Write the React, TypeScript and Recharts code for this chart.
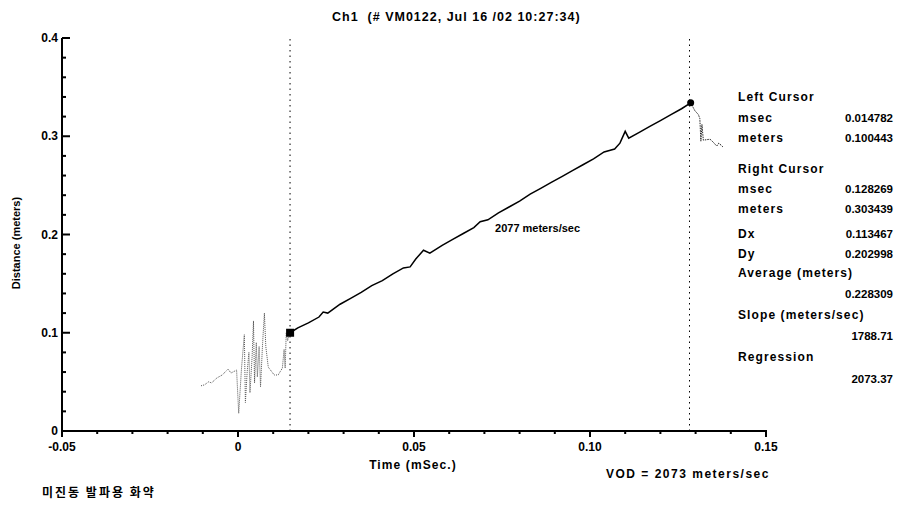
import React from "react";
import {
  ComposedChart,
  Line,
  Scatter,
  XAxis,
  YAxis,
  ReferenceLine,
  ReferenceDot,
} from "recharts";

// trace before the left cursor (noisy start, drawn dotted)
const preTime = [
  -0.0105, -0.0095, -0.0084, -0.0075, -0.006, -0.0045, -0.0028, -0.002, -0.0004,
  0.0002, 0.001, 0.0018, 0.0021, 0.0026, 0.0031, 0.0034, 0.004, 0.0044, 0.0047,
  0.0052, 0.0055, 0.006, 0.0064, 0.007, 0.0075, 0.0079, 0.0086, 0.0103, 0.0114,
  0.0126, 0.0131, 0.0134, 0.0137, 0.0141, 0.0145, 0.0148,
];
const preDist = [
  0.046, 0.047, 0.05, 0.049, 0.054, 0.057, 0.063, 0.059, 0.062,
  0.018, 0.064, 0.098, 0.029, 0.06, 0.08, 0.039, 0.075, 0.112, 0.049,
  0.09, 0.055, 0.086, 0.045, 0.09, 0.12, 0.086, 0.065, 0.057, 0.057,
  0.064, 0.083, 0.064, 0.1, 0.092, 0.098, 0.1,
];

// trace between the cursors
const mainTime = [
  0.0148, 0.017, 0.02, 0.023, 0.0242, 0.0255, 0.029, 0.032, 0.035, 0.038, 0.041,
  0.044, 0.047, 0.0489, 0.0505, 0.0527, 0.0545, 0.058, 0.061, 0.064, 0.067,
  0.0688, 0.071, 0.074, 0.077, 0.08, 0.083, 0.086, 0.089, 0.092, 0.095, 0.098,
  0.101, 0.104, 0.107, 0.1085, 0.11, 0.111, 0.114, 0.117, 0.12, 0.123, 0.126,
  0.1286,
];
const mainDist = [
  0.1, 0.105, 0.11, 0.116, 0.121, 0.12, 0.129, 0.135, 0.141, 0.148, 0.153,
  0.16, 0.166, 0.167, 0.175, 0.184, 0.181, 0.189, 0.195, 0.201, 0.207,
  0.213, 0.215, 0.222, 0.228, 0.234, 0.241, 0.247, 0.253, 0.259, 0.265, 0.271,
  0.277, 0.284, 0.287, 0.293, 0.305, 0.298, 0.304, 0.31, 0.316, 0.322, 0.328,
  0.334,
];

// trace after the right cursor
const tailTime = [
  0.1286, 0.1298, 0.1308, 0.1312, 0.1315, 0.1318, 0.1322, 0.1341, 0.135, 0.136,
  0.1366, 0.1378,
];
const tailDist = [
  0.334, 0.326, 0.322, 0.318, 0.295, 0.312, 0.296, 0.297, 0.294, 0.29, 0.293,
  0.289,
];

const leftCursor = 0.014782;
const rightCursor = 0.128269;
const cursorMarkTime = [0.0148, 0.1286];
const cursorMarkDist = [0.1, 0.334];

const xTicks = [
  -0.05, -0.04, -0.03, -0.02, -0.01, 0, 0.01, 0.02, 0.03, 0.04, 0.05, 0.06, 0.07,
  0.08, 0.09, 0.1, 0.11, 0.12, 0.13, 0.14, 0.15,
];
const xLabels: Record<string, string> = {
  "-0.05": "-0.05",
  "0.00": "0",
  "0.05": "0.05",
  "0.10": "0.10",
  "0.15": "0.15",
};
const yTicks = [
  0, 0.02, 0.04, 0.06, 0.08, 0.1, 0.12, 0.14, 0.16, 0.18, 0.2, 0.22, 0.24, 0.26,
  0.28, 0.3, 0.32, 0.34, 0.36, 0.38, 0.4,
];
const yLabels: Record<string, string> = {
  "0.00": "0",
  "0.10": "0.1",
  "0.20": "0.2",
  "0.30": "0.3",
  "0.40": "0.4",
};

const panelRows = [
  { label: "Left Cursor", value: "", top: 97 },
  { label: "msec", value: "0.014782", top: 118 },
  { label: "meters", value: "0.100443", top: 138 },
  { label: "Right Cursor", value: "", top: 169 },
  { label: "msec", value: "0.128269", top: 189 },
  { label: "meters", value: "0.303439", top: 209 },
  { label: "Dx", value: "0.113467", top: 234 },
  { label: "Dy", value: "0.202998", top: 254 },
  { label: "Average (meters)", value: "", top: 273 },
  { label: "", value: "0.228309", top: 294 },
  { label: "Slope (meters/sec)", value: "", top: 315 },
  { label: "", value: "1788.71", top: 336 },
  { label: "Regression", value: "", top: 357 },
  { label: "", value: "2073.37", top: 379 },
];

const zip = (ts: number[], vs: number[]) => ts.map((t, i) => ({ t, v: vs[i] }));
const preData = zip(preTime, preDist);
const mainData = zip(mainTime, mainDist);
const tailData = zip(tailTime, tailDist);
const markData = zip(cursorMarkTime, cursorMarkDist);

const FONT = "'Liberation Sans', Arial, sans-serif";
const tickText: React.CSSProperties = { fontWeight: 700, fontFamily: FONT, fontSize: 12 };

const renderXTick = (props: any) => {
  const { x, y, payload } = props;
  const label = xLabels[Number(payload.value).toFixed(2)];
  return (
    <g>
      <rect x={x - 1} y={y - 1} width={2} height={label ? 7 : 4} fill="#000" />
      {label && (
        <text x={x} y={y + 20} textAnchor="middle" fill="#000" style={tickText}>
          {label}
        </text>
      )}
    </g>
  );
};

const renderYTick = (props: any) => {
  const { x, y, payload } = props;
  const label = yLabels[Number(payload.value).toFixed(2)];
  return (
    <g>
      <rect x={x} y={y - 1} width={label ? 8 : 4} height={2} fill="#000" />
      {label && (
        <text x={x - 4} y={y + 4} textAnchor="end" fill="#000" style={tickText}>
          {label}
        </text>
      )}
    </g>
  );
};

const renderMark = (props: any) => {
  const { cx, cy, index } = props;
  if (index === 0) return <rect x={cx - 4} y={cy - 4} width={8} height={8} fill="#000" />;
  return <circle cx={cx} cy={cy} r={3.5} fill="#000" />;
};

const txt: React.CSSProperties = {
  position: "absolute",
  fontFamily: FONT,
  fontWeight: "bold",
  fontSize: 11,
  color: "#000",
  whiteSpace: "nowrap",
  lineHeight: "12px",
};
const wide: React.CSSProperties = { fontSize: 12, letterSpacing: 1.1 };

export default function App() {
  return (
    <div style={{ position: "absolute", left: 0, top: 0, width: 910, height: 505, background: "#fff" }}>
      <ComposedChart
        width={910}
        height={505}
        margin={{ top: 38, right: 144, bottom: 34, left: 2 }}
      >
        <XAxis
          dataKey="t"
          type="number"
          domain={[-0.05, 0.15]}
          ticks={xTicks}
          interval={0}
          allowDataOverflow
          height={40}
          tickSize={0}
          tickMargin={0}
          tickLine={false}
          tick={renderXTick}
          axisLine={{ stroke: "#000", strokeWidth: 2 }}
        />
        <YAxis
          dataKey="v"
          type="number"
          domain={[0, 0.4]}
          ticks={yTicks}
          interval={0}
          width={60}
          tickSize={0}
          tickMargin={0}
          tickLine={false}
          tick={renderYTick}
          axisLine={{ stroke: "#000", strokeWidth: 2 }}
        />
        <ReferenceLine x={leftCursor} stroke="#000" strokeWidth={1} strokeDasharray="1.5 4" />
        <ReferenceLine x={rightCursor} stroke="#000" strokeWidth={1} strokeDasharray="1.5 4" />
        <Line
          data={preData}
          dataKey="v"
          stroke="#555"
          strokeWidth={1}
          strokeDasharray="1 1"
          dot={false}
          isAnimationActive={false}
        />
        <Line
          data={mainData}
          dataKey="v"
          stroke="#000"
          strokeWidth={1.5}
          dot={false}
          isAnimationActive={false}
        />
        <Line
          data={tailData}
          dataKey="v"
          stroke="#222"
          strokeWidth={1}
          strokeDasharray="1.5 1"
          dot={false}
          isAnimationActive={false}
        />
        <Scatter data={markData} dataKey="v" shape={renderMark} isAnimationActive={false} />
        <ReferenceDot
          x={0.0716}
          y={0.207}
          r={0}
          label={{
            value: "2077 meters/sec",
            position: "right",
            fontSize: 11,
            fontWeight: "bold",
            fontFamily: FONT,
            fill: "#000",
          }}
        />
      </ComposedChart>

      <div style={{ ...txt, left: 332, top: 11, fontSize: 12.5, letterSpacing: 1 }}>
        Ch1&nbsp;&nbsp;(# VM0122, Jul 16 /02 10:27:34)
      </div>
      <div
        style={{
          ...txt,
          left: 16,
          top: 243,
          transform: "translate(-50%, -50%) rotate(-90deg)",
          fontSize: 11,
        }}
      >
        Distance (meters)
      </div>
      <div style={{ ...txt, ...wide, left: 413, top: 459, transform: "translateX(-50%)" }}>Time (mSec.)</div>
      <div style={{ ...txt, ...wide, left: 606, top: 468, letterSpacing: 1.5 }}>VOD = 2073 meters/sec</div>
      <div
        style={{
          ...txt,
          left: 42,
          top: 486,
          fontFamily: "'Noto Sans CJK KR', sans-serif",
          fontSize: 12,
          letterSpacing: 2,
        }}
      >
        미진동 발파용 화약
      </div>
      {panelRows.map((r, i) => (
        <React.Fragment key={i}>
          {r.label && <div style={{ ...txt, ...wide, left: 738, top: r.top - 6 }}>{r.label}</div>}
          {r.value && <div style={{ ...txt, fontSize: 11.5, right: 910 - 893, top: r.top - 6 }}>{r.value}</div>}
        </React.Fragment>
      ))}
    </div>
  );
}
